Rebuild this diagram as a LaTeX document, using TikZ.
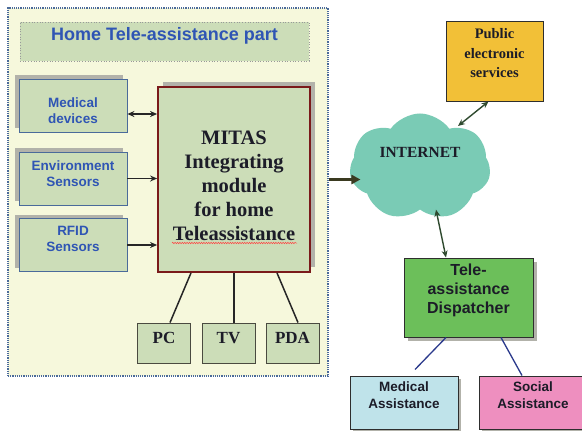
\documentclass[tikz,border=0pt]{standalone}
\usepackage{fontspec}
\setmainfont{Liberation Serif}
\setsansfont{Liberation Sans}
\usetikzlibrary{arrows.meta,shapes.symbols,shadows,decorations.pathmorphing}
\definecolor{homeyellow}{HTML}{F6F8DC}
\definecolor{dotblue}{HTML}{4A6A9A}
\definecolor{boxgreen}{HTML}{CCDDB8}
\definecolor{sensblue}{HTML}{4A6A9A}
\definecolor{textblue}{HTML}{2F55B4}
\definecolor{shadowgray}{HTML}{B2B2AA}
\definecolor{mitasred}{HTML}{7A1A1A}
\definecolor{devgray}{HTML}{4A4A40}
\definecolor{darktxt}{HTML}{1C1C28}
\definecolor{darkline}{HTML}{2E2E2E}
\definecolor{cloudteal}{HTML}{7ACBB5}
\definecolor{pubgold}{HTML}{F2C037}
\definecolor{dispgreen}{HTML}{6CBF5A}
\definecolor{medblue}{HTML}{BFE3EA}
\definecolor{socpink}{HTML}{EE8FBF}
\definecolor{navyline}{HTML}{2B3A8C}
\definecolor{arrowgreen}{HTML}{2F4A2F}
\definecolor{arrowolive}{HTML}{3A3A20}
\tikzset{every node/.style={inner sep=0pt},
 homebox/.style={draw=dotblue, fill=homeyellow, line width=1.3pt, dash pattern=on 1.2pt off 1pt, minimum width=320pt, minimum height=368pt},
 titlebox/.style={draw=gray!80, fill=boxgreen, dotted, line width=0.7pt, minimum width=289pt, minimum height=39pt},
 sensbox/.style={draw=sensblue, fill=boxgreen, line width=0.8pt, minimum width=108pt, minimum height=53pt, general shadow={fill=shadowgray, shadow xshift=-4pt, shadow yshift=4pt}},
 bluetxt/.style={font=\sffamily\bfseries\fontsize{13.5}{16.5}\selectfont, text=textblue, align=center},
 mitasbox/.style={draw=mitasred, fill=boxgreen, line width=1.8pt, minimum width=152pt, minimum height=185pt, general shadow={fill=shadowgray, shadow xshift=5pt, shadow yshift=5pt}},
 mitastxt/.style={font=\bfseries\fontsize{20.5}{24}\selectfont, text=darktxt, align=center},
 devbox/.style={draw=devgray, fill=boxgreen, line width=0.9pt, minimum width=53pt, minimum height=40pt},
 devtxt/.style={font=\bfseries\fontsize{17}{20}\selectfont, text=darktxt},
 link/.style={line width=1.5pt, draw=black!85},
 tip/.style={Stealth[length=7pt,width=6pt]},
 arr/.style={-{Stealth[length=7pt,width=6pt]}, line width=1.4pt, color=black!85},
 dblarr/.style={{Stealth[length=7pt,width=6pt]}-{Stealth[length=7pt,width=6pt]}, line width=1.4pt, color=black!85},
 netarr/.style={-{Triangle[length=9pt,width=9pt]}, line width=2.8pt, color=arrowolive},
 greenarr/.style={{Stealth[length=7pt,width=6pt]}-{Stealth[length=7pt,width=6pt]}, line width=1.4pt, color=arrowgreen},
 cloudnode/.style={cloud, cloud puffs=7, cloud puff arc=110, aspect=1.32, fill=cloudteal, minimum width=141pt, minimum height=107pt},
 nettxt/.style={font=\bfseries\fontsize{15.5}{18}\selectfont, text=darktxt},
 pubbox/.style={draw=darkline, fill=pubgold, line width=1pt, minimum width=97pt, minimum height=80pt},
 pubtxt/.style={font=\bfseries\fontsize{14.5}{19.5}\selectfont, text=darktxt, align=center},
 dispbox/.style={draw=darkline, fill=dispgreen, line width=1pt, minimum width=129pt, minimum height=79pt, general shadow={fill=shadowgray, shadow xshift=4pt, shadow yshift=-4pt}},
 disptxt/.style={font=\sffamily\bfseries\fontsize{16}{19}\selectfont, text=darktxt, align=center},
 asbox/.style={draw=darkline, line width=1pt, minimum width=108pt, minimum height=53pt, general shadow={fill=shadowgray, shadow xshift=3pt, shadow yshift=-3pt}},
 astxt/.style={font=\sffamily\bfseries\fontsize{13.5}{17}\selectfont, text=darktxt, align=center},
 navy/.style={line width=1.3pt, color=navyline},
 spell/.style={decorate, decoration={snake, amplitude=0.7pt, segment length=2.4pt}, red!75, line width=0.5pt}}

\begin{document}
\begin{tikzpicture}[x=1pt,y=-1pt]
   \useasboundingbox[fill=white] (0,0) rectangle (582,431);
   \begin{scope}
    \node[homebox] (home) at (168,192) {};
    \node[titlebox, label={[font=\sffamily\bfseries\fontsize{18}{20}\selectfont, text=textblue, yshift=5.5pt]center:Home Tele-assistance part}] (title) at (164.5,41.5) {};
    \node[mitasbox, label={[mitastxt, yshift=-6pt]center:{MITAS\\Integrating\\module\\for home\\Teleassistance}}] (mitas) at (234,179.5) {};
    \draw[spell] ([shift={(-62pt,-63.5pt)}]mitas.center) -- ([shift={(63pt,-63.5pt)}]mitas.center);
    \foreach \n/\y/\s/\t in {med/105.5/-5/{Medical\\devices}, env/178.5/5/{Environment\\Sensors}, rfid/245/6/{RFID\\Sensors}}
     \node[sensbox, label={[bluetxt, yshift=\s pt]center:\t}] (\n) at (73,\y) {};
    \coordinate (m1) at ([yshift=-8.5pt]med.east);
    \draw[dblarr] (m1) -- (m1 -| mitas.west);
    \foreach \n in {env,rfid}
     \draw[arr] (\n) -- (\n -| mitas.west);
    \foreach \n/\x/\t in {pc/164/PC, tv/228.5/TV, pda/292.5/PDA}
     \node[devbox, label={[devtxt, yshift=5pt]center:\t}] (\n) at (\x,343) {};
    \draw[link] ([xshift=-43pt]mitas.south) -- ([xshift=6pt]pc.north);
    \draw[link] (mitas.south) -- ([xshift=5.5pt]tv.north);
    \draw[link] ([xshift=43pt]mitas.south) -- ([xshift=5.5pt]pda.north);
   \end{scope}
   \begin{scope}
    \node[cloudnode, label={[nettxt, yshift=15pt]center:INTERNET}] (net) at (420,167) {};
    \node[pubbox, label={[pubtxt, yshift=7.5pt]center:{Public\\electronic\\services}}] (pub) at (494.5,61) {};
    \node[dispbox, label={[disptxt, yshift=7.5pt]center:{Tele-\\assistance\\Dispatcher}}] (disp) at (468.5,297.5) {};
    \node[asbox, fill=medblue, label={[astxt, yshift=7pt]center:{Medical\\Assistance}}] (medas) at (404,402.5) {};
    \node[asbox, fill=socpink, label={[astxt, yshift=7pt]center:{Social\\Assistance}}] (socas) at (533,402.5) {};
    \coordinate (n0) at (mitas.east -| net.west);
    \draw[netarr] (mitas.east -| home.east) -- ([xshift=10.5pt]n0);
    \draw[greenarr] ([shift={(38pt,41pt)}]net.center) -- ([xshift=-6pt]pub.south);
    \draw[greenarr] ([xshift=16pt]net.south) -- ([xshift=-22.5pt]disp.north);
    \draw[navy] ([xshift=-22.5pt]disp.south) -- ([shift={(11pt,6pt)}]medas.north);
    \draw[navy] ([xshift=32.5pt]disp.south) -- ([xshift=-11pt]socas.north);
   \end{scope}
\end{tikzpicture}
\end{document}
